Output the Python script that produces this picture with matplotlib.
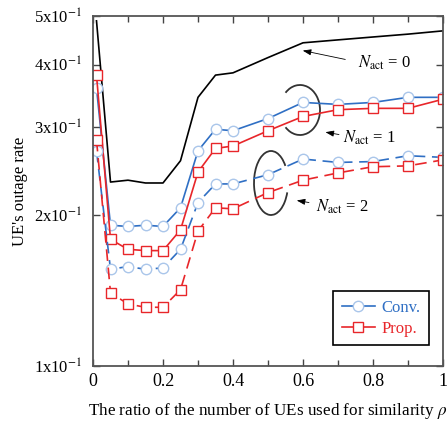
import numpy as np
import matplotlib
matplotlib.use("Agg")
import matplotlib.pyplot as plt
from matplotlib.patches import Arc
from matplotlib.ticker import FixedLocator, MultipleLocator, NullLocator

plt.rcParams['font.family'] = ['Liberation Serif', 'DejaVu Serif']
plt.rcParams['mathtext.fontset'] = 'stix'

# ratio rho
rho = [0.01, 0.05, 0.1, 0.15, 0.2, 0.25, 0.3, 0.35, 0.4, 0.5, 0.6, 0.7, 0.8, 0.9, 1.0]

# outage rates
nact0 = [0.489, 0.233, 0.235, 0.232, 0.232, 0.257, 0.344, 0.381, 0.385, 0.413, 0.442, 0.448, 0.454, 0.460, 0.467]
conv_n1 = [0.359, 0.191, 0.190, 0.191, 0.190, 0.207, 0.269, 0.297, 0.295, 0.312, 0.336, 0.333, 0.336, 0.344, 0.344]
prop_n1 = [0.381, 0.179, 0.171, 0.170, 0.170, 0.187, 0.244, 0.272, 0.275, 0.295, 0.315, 0.325, 0.327, 0.327, 0.341]
conv_n2 = [0.269, 0.156, 0.158, 0.156, 0.157, 0.171, 0.212, 0.231, 0.231, 0.241, 0.259, 0.255, 0.256, 0.263, 0.261]
prop_n2 = [0.283, 0.140, 0.133, 0.131, 0.131, 0.142, 0.186, 0.207, 0.206, 0.222, 0.235, 0.243, 0.250, 0.251, 0.258]

yticks = [0.1, 0.2, 0.3, 0.4, 0.5]
ytick_labels = [r"1x10$^{-1}$", r"2x10$^{-1}$", r"3x10$^{-1}$", r"4x10$^{-1}$", r"5x10$^{-1}$"]
xticks = [0, 0.2, 0.4, 0.6, 0.8, 1.0]
xtick_labels = ["0", "0.2", "0.4", "0.6", "0.8", "1"]

blue = "#2f6fc4"
blue_mk = "#aac6ea"
red = "#e8262a"

fig = plt.figure(figsize=(4.48, 4.26), dpi=100)
ax = fig.add_axes([93/448, 60/426, 350/448, 350/426])

ax.plot(rho, nact0, color="black", lw=1.2)
ax.plot(rho, conv_n1, color=blue, lw=1.2, marker="o", ms=7.5, mfc="white", mec=blue_mk, mew=1.0, label="Conv.")
ax.plot(rho, prop_n1, color=red, lw=1.2, marker="s", ms=7.5, mfc="white", mec=red, mew=1.0, label="Prop.")
ax.plot(rho, conv_n2, color=blue, lw=1.2, ls=(0, (7, 4)), marker="o", ms=7.5, mfc="white", mec=blue_mk, mew=1.0)
ax.plot(rho, prop_n2, color=red, lw=1.2, ls=(0, (7, 4)), marker="s", ms=7.5, mfc="white", mec=red, mew=1.0)

ax.set_yscale("log")
ax.set_xlim(0, 1)
ax.set_ylim(0.1, 0.5)
ax.yaxis.set_major_locator(FixedLocator(yticks))
ax.yaxis.set_minor_locator(NullLocator())
ax.set_yticklabels(ytick_labels)
ax.set_xticks(xticks)
ax.set_xticklabels(xtick_labels)
ax.xaxis.set_minor_locator(MultipleLocator(0.1))
ax.tick_params(which="both", direction="in", top=True, right=True, colors="#444444", labelcolor="black", labelsize=12)
ax.tick_params(axis="x", labelsize=13)
ax.tick_params(which="major", length=5, width=1)
ax.tick_params(which="minor", length=4, width=1)
ax.tick_params(axis="y", pad=8)
ax.tick_params(axis="x", pad=5)
for s in ax.spines.values():
    s.set_color("#555555")
    s.set_linewidth(1.3)

ax.set_xlabel(r"The ratio of the number of UEs used for similarity $\rho$", fontsize=12.3, labelpad=8)
ax.set_ylabel("UE's outage rate", fontsize=12, labelpad=4)

def fr(x, y):
    # pixel position in the picture -> axes fraction
    return ((x - 93) / 350, (366 - y) / 350)

ax.add_patch(Arc(fr(300, 110), 40/350, 50/350, theta1=-130, theta2=130, transform=ax.transAxes, color="#333333", lw=1.3))
ax.add_patch(Arc(fr(271, 183), 34/350, 64/350, theta1=50, theta2=330, transform=ax.transAxes, color="#333333", lw=1.3))

arrows = [((300, 50), (348, 60), (358, 63), "0"),
          ((322.7, 131.7), (341.7, 135), (343, 138), "1"),
          ((294, 200), (311.7, 203), (316, 207), "2")]
for head, tail, txt, n in arrows:
    ax.annotate("", xy=fr(*head), xytext=fr(*tail), xycoords="axes fraction", textcoords="axes fraction",
                arrowprops=dict(arrowstyle="-|>,head_length=0.5,head_width=0.18", color="black", lw=0.6))
    ax.text(*fr(*txt), r"$N_{\rm act}$ = " + n, transform=ax.transAxes, ha="left", va="center", fontsize=12)

leg = ax.legend(loc="lower right", bbox_to_anchor=(0.96, 0.06), borderaxespad=0, fancybox=False,
                edgecolor="black", framealpha=1, fontsize=12, labelcolor="linecolor", numpoints=1,
                handlelength=2.0, handletextpad=0.4, borderpad=0.5, labelspacing=0.3)
leg.get_frame().set_linewidth(1.2)

fig.savefig("out.png", dpi=100)
